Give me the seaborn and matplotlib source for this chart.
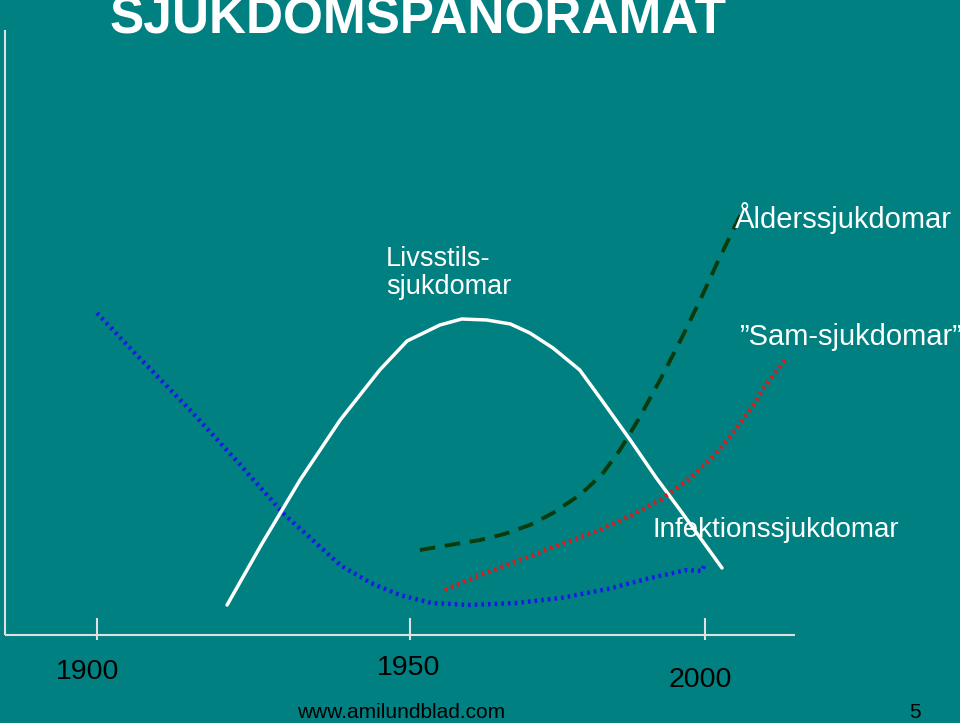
import matplotlib
matplotlib.use("Agg")
import matplotlib.pyplot as plt
import seaborn as sns
import pandas as pd

sns.set_theme(style="white")
plt.rcParams['font.family'] = ['Liberation Sans', 'DejaVu Sans']

# Kurvor (år, nivå)
infekt_ar = [1900, 1907, 1915, 1923, 1930.9, 1936, 1940.0, 1945, 1949.8, 1955, 1961.3, 1969, 1976.2, 1984, 1991.0, 1997, 1999.5, 2000]
infekt_niva = [410, 365, 315, 262, 208, 180, 158, 140, 128, 120, 118, 120, 125, 134, 145, 153, 152, 160]

livsstil_ar = [1921.4, 1927, 1933.4, 1940, 1946.5, 1951, 1956.4, 1960, 1964.1, 1968, 1971.2, 1975, 1979.4, 1983, 1987.7, 1992, 1995.9, 2002.8]
livsstil_niva = [118, 178, 243, 303, 353, 382, 398, 404, 403, 399, 390, 375, 353, 323, 283, 245, 213, 155]

alder_ar = [1953.1, 1958, 1963.0, 1967, 1971.2, 1975, 1979.4, 1983, 1986.0, 1989, 1992.6, 1996, 1999.2, 2002, 2005.8]
alder_niva = [173, 178, 183, 189, 198, 210, 228, 248, 273, 303, 343, 383, 423, 460, 508]

sam_ar = [1957.2, 1963, 1969.6, 1976, 1982.7, 1988, 1992.6, 1997, 2000.8, 2004, 2007.4, 2010, 2013.2]
sam_niva = [133, 148, 163, 178, 193, 208, 223, 242, 263, 285, 313, 338, 363]

tick_ar = [1900, 1951.5, 2000]
tick_text = ["1900", "1950", "2000"]

bg = "#008080"
fig = plt.figure(figsize=(9.6, 7.23), dpi=100, facecolor=bg)
ax = fig.add_axes([0, 0, 1, 1])
ax.set_facecolor(bg)
ax.set_xlim(1884.05, 2041.94)
ax.set_ylim(0, 723)
ax.axis("off")

sns.lineplot(x=infekt_ar, y=infekt_niva, ax=ax, color="#1a1ae6", lw=3.2,
             linestyle=(0, (0.6, 0.9)), sort=False)
sns.lineplot(x=livsstil_ar, y=livsstil_niva, ax=ax, color="white", lw=2.5, sort=False)
sns.lineplot(x=alder_ar, y=alder_niva, ax=ax, color="#0b3b0b", lw=2.8,
             linestyle=(0, (4, 2.5)), sort=False)
sns.lineplot(x=sam_ar, y=sam_niva, ax=ax, color="#e01a1a", lw=3.2,
             linestyle=(0, (0.6, 0.9)), sort=False)

# Axlar
ax.vlines(1884.9, 88, 693, color="#e0e0e0", lw=1.5)
ax.hlines(88, 1884.9, 2014.8, color="#e0e0e0", lw=1.5)
ax.vlines(tick_ar, 83, 105, color="#e0e0e0", lw=1.5)
for yr, t, yy in zip([1898.4, 1951.3, 1999.2], tick_text, [51, 55, 43]):
    ax.text(yr, yy, t, fontsize=20.5, color="black", ha="center", va="center")

ax.text(1902.1, 703, "SJUKDOMSPANORAMAT", fontsize=37, fontweight="bold",
        color="white", ha="left", va="center")
ax.text(1947.5, 450, "Livsstils-\nsjukdomar", fontsize=19.5, color="white",
        ha="left", va="center", linespacing=1.15)
ax.text(2004.9, 505, "Ålderssjukdomar", fontsize=21, color="white", ha="left", va="center")
ax.text(2005.8, 386, "”Sam-sjukdomar”", fontsize=21, color="white", ha="left", va="center")
ax.text(1991.3, 193, "Infektionssjukdomar", fontsize=20, color="white", ha="left", va="center")
ax.text(1932.9, 10, "www.amilundblad.com", fontsize=15, color="black", ha="left", va="center")
ax.text(2033.5, 10, "5", fontsize=15, color="black", ha="left", va="center")

fig.savefig("out.png", dpi=100, facecolor=bg)
